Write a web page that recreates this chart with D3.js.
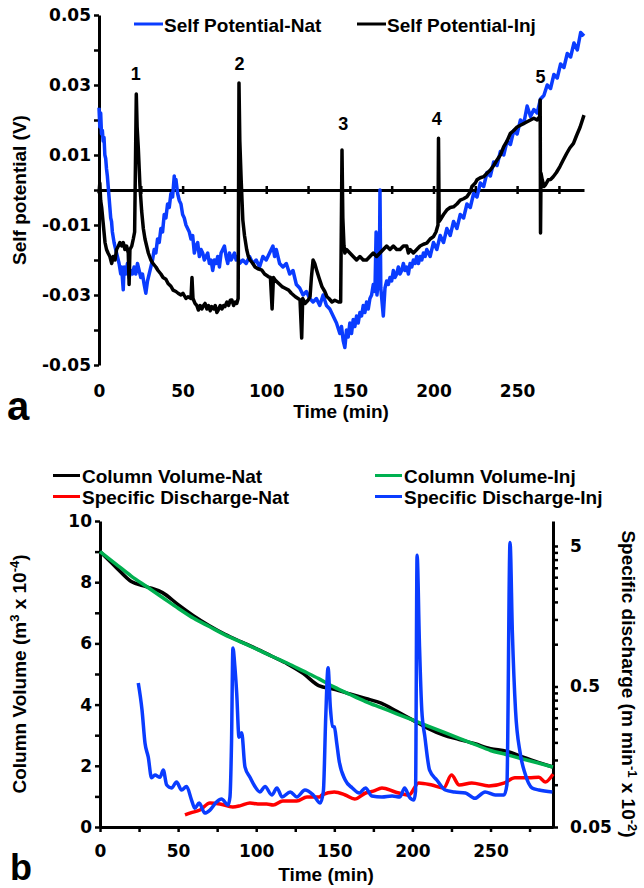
<!DOCTYPE html>
<html>
<head>
<meta charset="utf-8">
<script src="https://cdn.jsdelivr.net/npm/d3@7"></script>
<style>
body { margin: 0; background: #fff; }
svg { display: block; }
text { font-family: "Liberation Sans", Arial, sans-serif; font-weight: bold; fill: #000; }
.tick text { font-family: "DejaVu Sans", sans-serif; font-size: 17px; font-weight: bold; }
</style>
</head>
<body>
<div id="chart"></div>
<script>
// panel a: self potential, [time (min), SP (mV)]
var spNat = [
	[0,23.5],[0.5,18],[1,22],[1.5,16],[2,17],[2.5,14],[3,15],[3.5,10],[4,9],[4.5,6],[5,4],[5.5,1],[6,-2],[6.5,-5],
	[7,-8],[7.5,-9],[8,-12],[9,-15],[10,-17],[11,-19],[12,-21],[13,-24],[13.5,-22],[14.5,-28.5],[15,-22],[16,-24],
	[17,-21],[18,-25],[19,-23],[20,-24],[21,-22],[22,-24],[23,-21],[24,-23],[25,-25],[26,-24],[27,-27],[28,-29.5],
	[29,-26],[30,-24],[31,-22],[32,-20],[33,-17],[34,-18],[35,-14],[36,-15],[37,-11],[38,-12],[39,-7],[40,-8],
	[41,-4],[42,-5],[43,-1],[44,-2],[45,4],[45.5,1],[46,3],[47,-1],[48,-3],[49,-4],[50,-7],[51,-8],[52,-10],
	[53,-11],[54,-12],[55,-14],[56,-13],[57,-18],[58,-16],[59,-15],[60,-19],[61,-17],[62,-18],[63,-20],[64,-19],
	[65,-18],[66,-21],[67,-20],[68,-23],[69,-20],[70,-21],[71,-19],[72,-22],[73,-18],[74,-17],[75,-16],[76,-19],
	[77,-21],[78,-18],[79,-20],[80,-19],[81,-18],[82,-20],[83,-19],[84,-21],[86,-20],[88,-21],[90,-19],[92,-21],
	[94,-20],[96,-22],[98,-19],[100,-20],[102,-18],[104,-16],[105,-19],[106,-17],[108,-21],[110,-22],[112,-21],
	[114,-24],[116,-23],[118,-27],[120,-28],[122,-30],[124,-29],[126,-31],[128,-32],[130,-31],[132,-33],[134,-30],
	[136,-33],[138,-34],[140,-36],[142,-38],[144,-41],[145,-39],[146,-43],[147,-45],[148,-40],[149,-42],[150,-38],
	[151,-41],[152,-37],[153,-39],[154,-36],[155,-38],[156,-35],[157,-36],[158,-33],[159,-35],[160,-32],[161,-34],
	[162,-31],[163,-30],[164,-27],[165,-29],[165.7,-12],[166.2,-30],[167,-26],[167.6,-27],[168,0],[168.5,-28],
	[170,-36],[171,-28],[172,-26],[173,-27],[174,-25],[175,-26],[176,-23],[177,-25],[178,-24],[179,-22],[180,-24],
	[181,-23],[182,-21],[183,-23],[184,-22],[185,-24],[186,-21],[187,-22],[188,-20],[189,-21],[190,-19],[191,-21],
	[192,-19],[193,-20],[194,-18],[195,-19],[196,-17],[198,-19],[200,-15],[202,-17],[204,-13],[206,-15],[208,-11],
	[210,-13],[212,-9],[214,-11],[216,-7],[218,-8],[220,-4],[222,-5],[224,-1],[226,-2],[228,2],[230,1],[232,5],
	[234,4],[236,8],[238,7],[240,11],[242,10],[244,14],[246,13],[248,17],[250,16],[252,20],[254,19],[256,24],
	[258,21],[260,23],[262,22],[264,26],[266,27],[268,30],[270,29],[272,33],[274,32],[276,36],[278,35],[280,39],
	[282,38],[284,42],[286,40],[288,45],[290,44]
];
var spInj = [
	[0,-1],[0.5,2],[1,-3],[1.6,-5],[2.4,-9],[3,-12],[3.6,-15],[4.5,-17],[5.4,-18],[6.5,-19],[7.6,-21],[8.5,-19],
	[9.6,-20],[10.5,-17],[11.6,-16],[12.5,-15],[13.6,-16],[14.5,-15],[15.5,-17],[16.5,-16],[17.5,-18],[18,-27],
	[18.5,-17],[19.6,-16],[20.5,-14],[21.3,-12],[22.3,27.4],[22.8,18],[23.5,12],[24.5,1],[25.5,-6],[26.5,-11],
	[27.5,-14],[28.5,-16],[29.5,-18],[31,-20],[32.3,-21],[34,-22],[35.3,-23],[37,-24],[38.3,-25],[40,-25.5],
	[41.3,-26.7],[43,-27.5],[44.3,-28.6],[46,-29],[47.3,-29.5],[49,-30],[50.2,-29.5],[52,-31],[53.2,-30.5],
	[55,-31],[55.6,-25],[56.2,-31],[57.4,-32.4],[58.5,-33],[59.4,-34.3],[60.5,-33],[61.5,-34],[62.5,-33],
	[63.4,-32.4],[64.5,-34],[65.5,-33],[66.5,-34.5],[67.4,-33.3],[68.5,-34],[69.5,-33],[70.5,-35],[71.3,-34.3],
	[72.5,-33],[73.5,-34],[74.5,-33],[75.3,-33.3],[76.5,-32],[77.5,-33],[78.5,-31.5],[79.4,-31.4],[80.5,-33],
	[81.5,-32],[82.4,-32.4],[83.2,-31],[83.7,30.6],[84.2,14],[85,3],[86,-8.6],[87,-13],[88.3,-17],[89.3,-19],
	[90.3,-20],[92,-21],[93.3,-22],[95,-22.5],[97.4,-22.9],[99,-24],[101.4,-24.8],[102.5,-25],[103.5,-34],
	[104.3,-25],[105.3,-25.7],[107,-26.5],[109.4,-27.6],[111,-28],[113.4,-28.6],[115,-29.5],[117.4,-30.5],
	[119,-31],[120.2,-31.4],[121.2,-42.3],[121.8,-31],[123.3,-32.4],[125,-31.5],[126.2,-30.5],[127,-25],[128,-20],
	[129,-21],[130.2,-23],[131.5,-25],[133.3,-27.6],[135,-29],[136.3,-30.5],[137.5,-31],[139.3,-32],[141,-31.5],
	[143.2,-32],[144.5,-32],[145.3,11.4],[145.8,-8],[146.5,-16],[147,-18],[148,-17],[150,-18],[152,-19],[154,-20],
	[156,-19],[158,-20],[160,-20],[162,-19],[164,-18],[166,-19],[168,-18],[170,-17],[172,-16],[174,-17],[176,-16],
	[178,-17],[180,-17],[182,-16],[184,-16],[185,-18],[186,-17],[188,-18],[190,-17],[192,-16],[194,-15.5],
	[196,-15.2],[198,-14],[200,-13.3],[201.5,-12],[202.7,-10],[203,14.8],[203.4,-9],[204,-8.6],[206,-7],[208,-5.7],
	[210,-5],[212,-4.8],[214,-4],[216,-2.9],[218,-2.5],[220,-1.9],[222,-0.5],[223,1],[225,2],[226,2.9],[228,3.5],
	[230,3.8],[232,4.8],[234,5.7],[236,7],[238,8.6],[240,10],[242,12.4],[244,14],[246,16.2],[248,17],[250,18],
	[252,18.5],[254,19],[256,19.5],[258,20],[260,20.5],[262,20],[263.5,21],[263.8,25.7],[264,-12.3],[264.3,4.8],
	[265,3],[266,1],[267,1.5],[268.6,2.9],[270,3],[271.6,3.8],[273.5,5],[275.6,6.7],[277.5,8.5],[279.7,10.5],
	[281.5,12],[283.7,13.3],[285.5,15.5],[287.7,18],[290,21.4]
];
var spikeLabels = ["1", "2", "3", "4", "5"];
var spikeTimes = [22, 84, 146, 202, 264];
var spikeLabelSP = [31.4, 34.3, 17.1, 18.6, 30.6];
var topSeries = ["Self Potential-Nat", "Self Potential-Inj"];
var topTicksY = [-0.05, -0.03, -0.01, 0.01, 0.03, 0.05];

// panel b: column volume (m3 x 1e-4)
var volTime = [0,10,20,30,40,50,60,70,80,90,100,110,120,130,140,150,160,170,180,190,200,210,220,230,240,250,260,270,280,290];
var volNat = [9.0,8.5,8.02,7.85,7.66,7.27,6.9,6.58,6.3,6.06,5.83,5.58,5.33,5.02,4.62,4.5,4.35,4.2,4.05,3.78,3.5,3.22,3.0,2.86,2.72,2.56,2.48,2.3,2.12,1.96];
var volInj = [9.0,8.6,8.2,7.85,7.5,7.15,6.82,6.55,6.28,6.05,5.82,5.58,5.35,5.1,4.85,4.57,4.33,4.1,3.9,3.7,3.5,3.3,3.1,2.9,2.7,2.5,2.37,2.23,2.1,1.96];
// specific discharge (m min-1 x 1e-2), [time, q]
var qNat = [
	[54.4,0.0609],[58,0.063],[64,0.066],[70.4,0.0741],[76.8,0.0729],[85,0.0694],[90,0.071],[96,0.0741],[101,0.073],
	[106.7,0.0729],[110.9,0.0717],[117,0.0766],[126,0.0766],[132.5,0.0818],[141,0.0818],[142,0.0845],[150,0.0888],
	[157,0.0845],[163,0.0791],[170,0.0873],[175,0.09],[180.5,0.0948],[189,0.0888],[197.8,0.0845],[204,0.103],
	[212.5,0.0995],[220,0.0948],[225,0.117],[230,0.0995],[238,0.103],[249,0.098],[259,0.103],[265.6,0.112],
	[274.6,0.112],[281,0.113],[285,0.1045],[290,0.119]
];
var qInj = [
	[24.5,0.53],[26.9,0.34],[28.8,0.198],[30.9,0.157],[33,0.112],[35.2,0.117],[38.4,0.113],[40.5,0.127],[42.7,0.0995],
	[45.8,0.0948],[49,0.1045],[52.2,0.0917],[55.4,0.097],[58.6,0.0778],[60.7,0.068],[63.5,0.074],[67.1,0.0629],
	[70.4,0.066],[74.6,0.0753],[77.8,0.079],[82,0.0717],[83.2,0.0818],[84.2,0.2],[85.1,0.94],[86.3,0.7],[87.5,0.45],
	[89,0.218],[90.7,0.234],[92.8,0.134],[96,0.113],[99.2,0.097],[102.4,0.0888],[105.6,0.097],[110,0.0845],
	[113.3,0.0948],[116.5,0.0818],[121.8,0.0888],[126,0.0818],[131.2,0.0917],[136.5,0.0845],[141,0.074],[143,0.09],
	[144.5,0.3],[146,0.68],[147.5,0.35],[149,0.26],[150,0.258],[151.5,0.2],[153,0.15],[157,0.108],[161.5,0.0948],
	[166,0.0873],[170,0.0948],[174,0.0831],[180.5,0.0818],[187,0.0831],[192,0.0818],[195,0.0948],[198,0.0818],
	[201,0.0778],[202,0.09],[203,4.3],[204.5,1.0],[206,0.34],[208,0.218],[211,0.127],[215.6,0.108],[221,0.0917],
	[227,0.0888],[234,0.0873],[240,0.08],[246.5,0.0888],[253,0.0845],[258.6,0.0845],[260.5,0.1],[262.5,5.3],
	[264,1.2],[266,0.34],[269,0.168],[272,0.121],[276.6,0.0948],[281,0.0917],[289.6,0.0888]
];
var bottomSeries = ["Column Volume-Nat", "Column Volume-Inj", "Specific Discharge-Nat", "Specific Discharge-Inj"];
var qTicks = [0.05, 0.5, 5];

var blue = "#0a3cff", green = "#00b050", red = "#ff0000";

function init() {
	var w = 644, h = 888;
	var svg = d3.select("#chart").append("svg").attr("width", w).attr("height", h);

	function thick(g) {
		g.select(".domain").attr("stroke-width", 3);
		g.selectAll(".tick line").attr("stroke-width", 2.5);
		g.attr("font-family", null).attr("font-size", null);
	}

	// ---------- panel a ----------
	var xA = d3.scaleLinear().domain([0, 290]).range([99, 584]);
	var yA = d3.scaleLinear().domain([-0.05, 0.05]).range([365, 15]);

	svg.append("g").attr("transform", "translate(99,0)")
		.call(d3.axisLeft(yA).tickValues(d3.range(-5, 6).map(function(d) { return d / 100; }))
			.tickSize(5).tickSizeOuter(0).tickPadding(3)
			.tickFormat(function(d) {
				var k = Math.round(d * 100);
				return topTicksY.indexOf(k / 100) >= 0 ? (k / 100).toFixed(2) : "";
			}))
		.call(thick);

	var zero = svg.append("g").attr("transform", "translate(0," + yA(0) + ")")
		.call(d3.axisBottom(xA).tickValues(d3.range(0, 290, 25)).tickSizeOuter(0).tickFormat(""))
		.call(thick);
	zero.selectAll(".tick line").attr("y1", -4).attr("y2", 4);

	var xLabA = svg.append("g").attr("transform", "translate(0,365)")
		.call(d3.axisBottom(xA).tickValues(d3.range(0, 251, 50)).tickSize(0).tickPadding(20))
		.call(thick);
	xLabA.select(".domain").remove();

	var lineA = d3.line()
		.x(function(d) { return xA(d[0]); })
		.y(function(d) { return yA(d[1] / 1000); });

	svg.append("path").datum(spNat).attr("d", lineA)
		.attr("fill", "none").attr("stroke", blue).attr("stroke-width", 3.5).attr("stroke-linejoin", "round");
	svg.append("path").datum(spInj).attr("d", lineA)
		.attr("fill", "none").attr("stroke", "#000").attr("stroke-width", 3.5).attr("stroke-linejoin", "round");

	svg.selectAll(".spike").data(spikeLabels).enter().append("text")
		.attr("class", "spike")
		.attr("x", function(d, i) { return xA(spikeTimes[i]); })
		.attr("y", function(d, i) { return yA(spikeLabelSP[i] / 1000); })
		.attr("text-anchor", "middle").attr("font-size", 18)
		.text(function(d) { return d; });

	var legA = [[134, topSeries[0], blue], [357, topSeries[1], "#000"]];
	legA.forEach(function(l) {
		svg.append("line").attr("x1", l[0]).attr("x2", l[0] + 29).attr("y1", 24).attr("y2", 24)
			.attr("stroke", l[2]).attr("stroke-width", 3);
		svg.append("text").attr("x", l[0] + 30).attr("y", 31.5).attr("font-size", 19).text(l[1]);
	});

	svg.append("text").attr("x", 341).attr("y", 418).attr("text-anchor", "middle")
		.attr("font-size", 19).text("Time (min)");
	svg.append("text").attr("transform", "translate(26,190) rotate(-90)").attr("text-anchor", "middle")
		.attr("font-size", 19).text("Self potential (V)");
	svg.append("text").attr("x", 7).attr("y", 420).attr("font-size", 40).text("a");

	// ---------- panel b ----------
	var xB = d3.scaleLinear().domain([0, 290]).range([100, 553]);
	var yB = d3.scaleLinear().domain([0, 10]).range([827, 521]);
	var qB = d3.scaleLog().domain([0.05, 7.53]).range([827, 521]);

	svg.append("g").attr("transform", "translate(100,0)")
		.call(d3.axisLeft(yB).tickValues(d3.range(0, 11)).tickSize(5).tickSizeOuter(0).tickPadding(3)
			.tickFormat(function(d) { return d % 2 === 0 ? d : ""; }))
		.call(thick);

	svg.append("g").attr("transform", "translate(0,827)")
		.call(d3.axisBottom(xB).tickValues(d3.range(0, 290, 25)).tickSize(5).tickSizeOuter(0).tickPadding(13)
			.tickFormat(function(d) { return d % 50 === 0 && d <= 250 ? d : ""; }))
		.call(thick);

	var minor = d3.range(2, 10).map(function(k) { return +(0.05 * k).toFixed(2); })
		.concat(d3.range(2, 10).map(function(k) { return +(0.5 * k).toFixed(1); }));
	svg.append("g").attr("transform", "translate(553,0)")
		.call(d3.axisRight(qB).tickValues(qTicks.concat(minor)).tickSize(5).tickSizeOuter(0).tickPadding(12)
			.tickFormat(function(d) { return qTicks.indexOf(d) >= 0 ? d : ""; }))
		.call(thick);

	var volLine = d3.line()
		.x(function(d, i) { return xB(volTime[i]); })
		.y(function(d) { return yB(d); })
		.curve(d3.curveMonotoneX);
	svg.append("path").datum(volNat).attr("d", volLine)
		.attr("fill", "none").attr("stroke", "#000").attr("stroke-width", 3.5);
	svg.append("path").datum(volInj).attr("d", volLine)
		.attr("fill", "none").attr("stroke", green).attr("stroke-width", 3.5);

	var qLine = d3.line()
		.x(function(d) { return xB(d[0]); })
		.y(function(d) { return qB(d[1]); })
		.curve(d3.curveMonotoneX);
	svg.append("path").datum(qNat).attr("d", qLine)
		.attr("fill", "none").attr("stroke", red).attr("stroke-width", 3.5);
	svg.append("path").datum(qInj).attr("d", qLine)
		.attr("fill", "none").attr("stroke", blue).attr("stroke-width", 3.5).attr("stroke-linejoin", "round");

	var legB = [[53, 483, bottomSeries[0], "#000"], [375, 483, bottomSeries[1], green],
		[53, 504, bottomSeries[2], red], [375, 504, bottomSeries[3], blue]];
	legB.forEach(function(l) {
		svg.append("line").attr("x1", l[0]).attr("x2", l[0] + 27).attr("y1", l[1] - 7.5).attr("y2", l[1] - 7.5)
			.attr("stroke", l[3]).attr("stroke-width", 3);
		svg.append("text").attr("x", l[0] + 29).attr("y", l[1]).attr("font-size", 19).text(l[2]);
	});

	svg.append("text").attr("x", 326).attr("y", 881).attr("text-anchor", "middle")
		.attr("font-size", 19).text("Time (min)");

	var lv = svg.append("text").attr("transform", "translate(26,674) rotate(-90)").attr("text-anchor", "middle")
		.attr("font-size", 19);
	lv.append("tspan").text("Column Volume (m");
	lv.append("tspan").attr("dy", -7).attr("font-size", 13).text("3");
	lv.append("tspan").attr("dy", 7).text(" x 10");
	lv.append("tspan").attr("dy", -7).attr("font-size", 13).text("-4");
	lv.append("tspan").attr("dy", 7).text(")");

	var lq = svg.append("text").attr("transform", "translate(622,684) rotate(90)").attr("text-anchor", "middle")
		.attr("font-size", 19);
	lq.append("tspan").text("Specific discharge (m min");
	lq.append("tspan").attr("dy", -6).attr("font-size", 13).text("-1");
	lq.append("tspan").attr("dy", 6).text(" x 10");
	lq.append("tspan").attr("dy", -6).attr("font-size", 13).text("-2");
	lq.append("tspan").attr("dy", 6).text(")");

	svg.append("text").attr("x", 10).attr("y", 880).attr("font-size", 36).text("b");
}

window.onload = init;
</script>
</body>
</html>
